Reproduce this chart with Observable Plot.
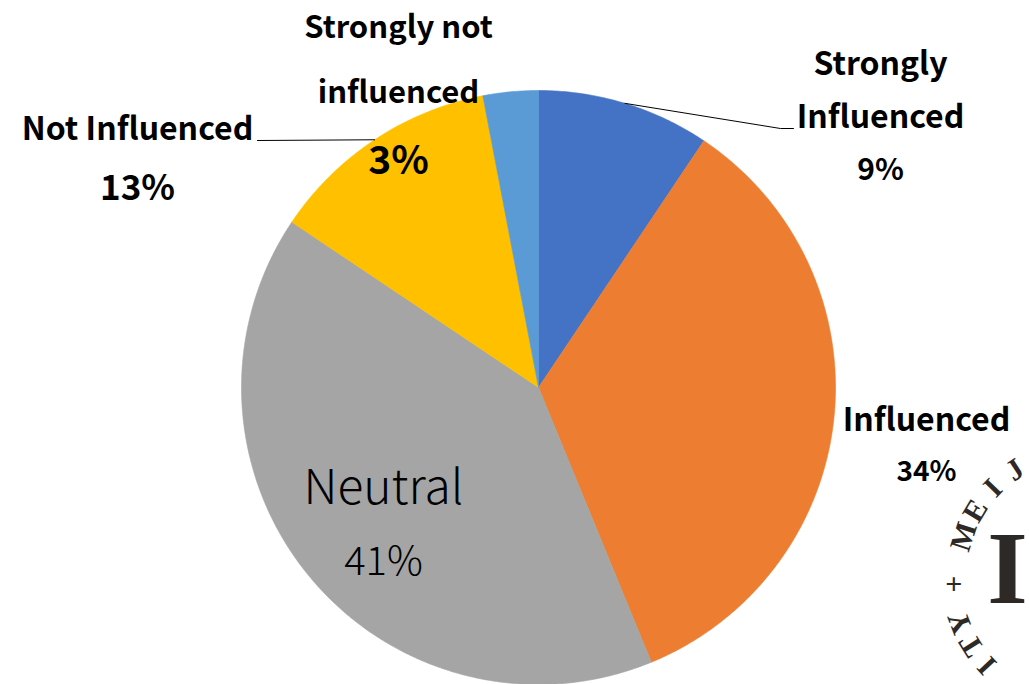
<!DOCTYPE html>
<html><head><meta charset="utf-8">
<script src="https://cdn.jsdelivr.net/npm/d3@7"></script>
<script src="https://cdn.jsdelivr.net/npm/@observablehq/plot@0.6"></script>
<style>html,body{margin:0;padding:0;background:#fff;overflow:hidden}</style>
</head><body><div id="chart"></div>
<script>
// ---- data ----
const categories = ["Strongly Influenced", "Influenced", "Neutral", "Not Influenced", "Strongly not influenced"];
const values = [9.4, 34.4, 40.6, 12.6, 3.0];
const percentLabels = ["9%", "34%", "41%", "13%", "3%"];
const labelLines = [["Strongly", "Influenced"], ["Influenced"], ["Neutral"], ["Not Influenced"], ["Strongly not", "influenced"]];
const colors = ["#4472C4", "#ED7D31", "#A5A5A5", "#FFC000", "#5B9BD5"];
const sealTop = "MEIJI";
const sealBottom = "UNIVERSITY";

// ---- layout ----
const W = 1029, H = 684;
const CX = 538, CY = 387, R = 297;
const FONT = "'Noto Sans CJK JP', 'Noto Sans', sans-serif";
const labelLayout = [
  {x: 880, ys: [64, 117], pctY: 170, size: 32, pctSize: 30, weight: "bold", leader: [[780, 128], [793, 128]]},
  {x: 926, ys: [420], pctY: 472, size: 32, pctSize: 28, weight: "bold"},
  {x: 383, ys: [488], pctY: 562, size: 48, pctSize: 40, weight: 300},
  {x: 137, ys: [129], pctY: 188, size: 32, pctSize: 35, weight: "bold", leader: [[257, 140]]},
  {x: 398, ys: [28, 93], pctY: 161, size: 31, pctSize: 39, weight: "bold"}
];

const pie = d3.pie().sort(null).value(d => d)(values);

const marks = [];
pie.forEach((p, i) => {
  const pts = [{x: CX, y: CY}];
  const n = Math.max(2, Math.ceil((p.endAngle - p.startAngle) / (Math.PI / 360)));
  for (let k = 0; k <= n; k++) {
    const a = p.startAngle + (p.endAngle - p.startAngle) * k / n;
    pts.push({x: CX + R * Math.sin(a), y: CY - R * Math.cos(a)});
  }
  pts.push({x: CX, y: CY});
  marks.push(Plot.line(pts, {x: "x", y: "y", fill: colors[i], stroke: colors[i], strokeWidth: 0.6, curve: "linear"}));
});

// leader lines
pie.forEach((p, i) => {
  const L = labelLayout[i];
  if (!L.leader) return;
  const a = (p.startAngle + p.endAngle) / 2;
  const pts = [{x: CX + R * Math.sin(a), y: CY - R * Math.cos(a)}, ...L.leader.map(([x, y]) => ({x, y}))];
  marks.push(Plot.line(pts, {x: "x", y: "y", stroke: "#000", strokeWidth: 1, curve: "linear"}));
});

// labels
categories.forEach((c, i) => {
  const L = labelLayout[i];
  const rows = labelLines[i].map((t, k) => ({text: t, x: L.x, y: L.ys[k]}));
  marks.push(Plot.text(rows, {x: "x", y: "y", text: "text", fontSize: L.size, fontWeight: L.weight, fontFamily: FONT, fill: "#000", textAnchor: "middle"}));
  marks.push(Plot.text([{text: percentLabels[i], x: L.x, y: L.pctY}], {x: "x", y: "y", text: "text", fontSize: L.pctSize, fontWeight: L.weight, fontFamily: FONT, fill: "#000", textAnchor: "middle"}));
});

// seal watermark (only the part inside the frame)
const SX = 1083, SY = 575;
const sealChars = [];
[...sealTop].forEach((ch, k) => sealChars.push({ch, a: 198 + 13 * k, r: 126}));
[...sealBottom].reverse().forEach((ch, k) => sealChars.push({ch, a: 159 - 11 * k, r: 132}));
sealChars.push({ch: "+", a: 176, r: 130});
sealChars.forEach(d => {
  const rad = d.a * Math.PI / 180;
  d.x = SX + d.r * Math.cos(rad);
  d.y = SY + d.r * Math.sin(rad);
  d.rot = d.ch === "+" ? 0 : d.a + 90;
});
const sealVisible = sealChars.filter(d => d.x < 1016 && d.y < 680);
marks.push(Plot.text(sealVisible, {x: "x", y: "y", text: "ch", rotate: "rot", fontSize: 30, fontWeight: "bold", fontFamily: "'Liberation Serif', serif", fill: "#2d2926"}));
marks.push(Plot.text([{t: "I", x: 1007, y: 569}], {x: "x", y: "y", text: "t", fontSize: 104, fontWeight: "bold", fontFamily: "'Liberation Serif', serif", fill: "#2d2926", textAnchor: "middle"}));

const chart = Plot.plot({
  width: W, height: H,
  margin: 0,
  x: {domain: [0, W], range: [0, W], axis: null},
  y: {domain: [0, H], range: [0, H], axis: null},
  style: {background: "#fff", overflow: "hidden"},
  marks
});
document.getElementById("chart").appendChild(chart);
</script>
</body></html>
